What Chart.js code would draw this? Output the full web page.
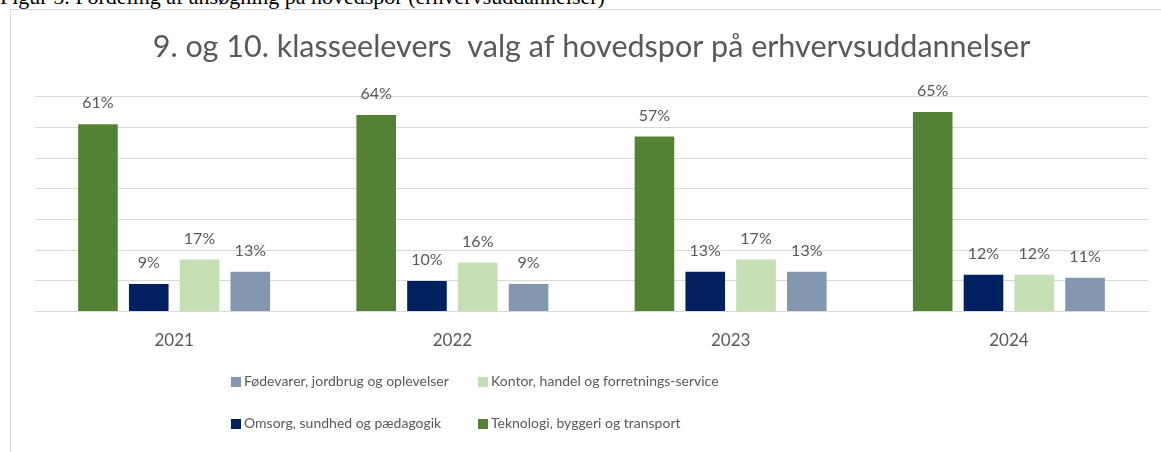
<!DOCTYPE html>
<html>
<head>
<meta charset="utf-8">
<script src="https://cdn.jsdelivr.net/npm/chart.js@4.4.1/dist/chart.umd.min.js"></script>
<style>
  body { margin: 0; background: #fff; width: 1161px; height: 452px; overflow: hidden; position: relative; }
  #caption { position: absolute; left: 0; top: -14px; font: 22px "Liberation Serif", serif; color: #000; white-space: nowrap; line-height: 22px; }
  #frame { position: absolute; left: 10px; top: 9px; width: 1200px; height: 500px; border: 1px solid #d9d9d9; }
  #wrap { position: absolute; left: 0; top: 0; width: 1161px; height: 452px; }
  .leg { position: absolute; font: 14px Lato, sans-serif; color: #595959; white-space: nowrap; line-height: 18px; }
  .leg i { display: inline-block; width: 10px; height: 10px; margin-right: 3px; vertical-align: -1px; }
</style>
</head>
<body>
<div id="caption">Figur 5. Fordeling af ansøgning på hovedspor (erhvervsuddannelser)</div>
<div id="frame"></div>
<div id="wrap"><canvas id="chart"></canvas></div>
<div id="legend"></div>
<script>
const years = ['2021', '2022', '2023', '2024'];
const teknologi = [61, 64, 57, 65];
const omsorg = [9, 10, 13, 12];
const kontor = [17, 16, 17, 12];
const foedevarer = [13, 9, 13, 11];

const grey = '#595959';

// værdier over søjlerne
const barLabels = {
  id: 'barLabels',
  afterDatasetsDraw(chart) {
    const ctx = chart.ctx;
    ctx.save();
    ctx.font = '16px Lato';
    ctx.fillStyle = grey;
    ctx.textAlign = 'center';
    ctx.textBaseline = 'middle';
    chart.data.datasets.forEach((ds, i) => {
      chart.getDatasetMeta(i).data.forEach((bar, j) => {
        ctx.fillText(ds.data[j] + '%', bar.x, bar.y - 21);
      });
    });
    ctx.restore();
  }
};

const chart = new Chart(document.getElementById('chart'), {
  type: 'bar',
  data: {
    labels: years,
    datasets: [
      { label: 'Teknologi, byggeri og transport', data: teknologi, backgroundColor: '#548235' },
      { label: 'Omsorg, sundhed og pædagogik', data: omsorg, backgroundColor: '#002060' },
      { label: 'Kontor, handel og forretnings-service', data: kontor, backgroundColor: '#c5e0b4' },
      { label: 'Fødevarer, jordbrug og oplevelser', data: foedevarer, backgroundColor: '#8497b0' }
    ]
  },
  options: {
    responsive: true,
    maintainAspectRatio: false,
    animation: false,
    categoryPercentage: 0.73,
    barPercentage: 0.78,
    layout: { padding: { top: 9, left: 35, right: 13, bottom: 82 } },
    plugins: {
      legend: { display: false },
      tooltip: { enabled: false },
      title: {
        display: true,
        text: '9. og 10. klasseelevers  valg af hovedspor på erhvervsuddannelser',
        color: grey,
        font: { family: 'Lato', size: 30.5, weight: 'normal' },
        padding: { top: 20, bottom: 31 }
      }
    },
    scales: {
      x: {
        grid: { display: false, drawTicks: false },
        border: { color: '#d9d9d9' },
        ticks: { color: grey, padding: 19, font: { family: 'Lato', size: 17 } }
      },
      y: {
        min: 0,
        max: 70,
        ticks: { display: false, stepSize: 10 },
        grid: { color: '#d9d9d9', drawTicks: false },
        border: { display: false }
      }
    }
  },
  plugins: [barLabels]
});

// forklaring i to kolonner, samme rækkefølge som i originalen
const legendOrder = [3, 2, 1, 0];
const legendPos = [[231, 372], [478, 372], [231, 414], [478, 414]];
const legend = document.getElementById('legend');
legendOrder.forEach((di, k) => {
  const ds = chart.data.datasets[di];
  const el = document.createElement('div');
  el.className = 'leg';
  el.style.left = legendPos[k][0] + 'px';
  el.style.top = legendPos[k][1] + 'px';
  el.innerHTML = '<i style="background:' + ds.backgroundColor + '"></i>' + ds.label;
  legend.appendChild(el);
});
</script>
</body>
</html>
